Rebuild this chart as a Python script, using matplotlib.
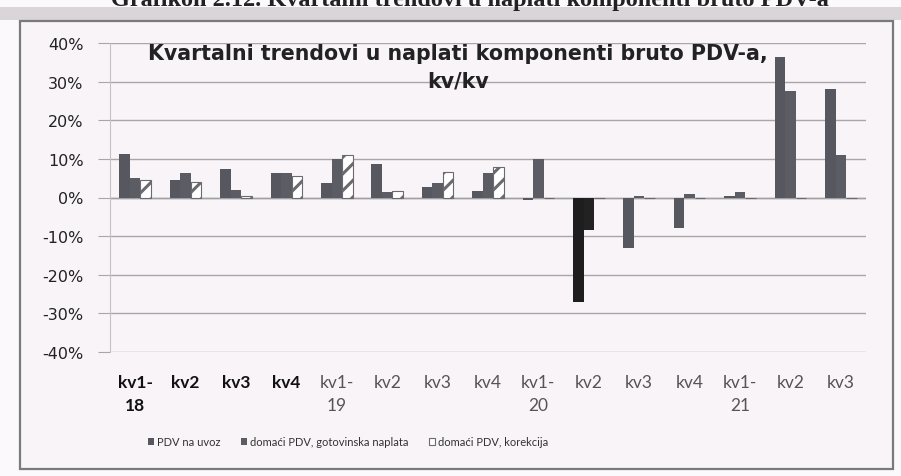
import matplotlib
matplotlib.use("Agg")
import matplotlib.pyplot as plt
from matplotlib.patches import Rectangle
import numpy as np

# ---- data ----
quarters = ["kv1-\n18", "kv2", "kv3", "kv4", "kv1-\n19", "kv2", "kv3", "kv4",
            "kv1-\n20", "kv2", "kv3", "kv4", "kv1-\n21", "kv2", "kv3"]
pdv_uvoz = [11.2, 4.6, 7.3, 6.3, 3.7, 8.8, 2.7, 1.7, -0.7, -27.0, -13.0, -8.0, 0.3, 36.5, 28.0]
domaci_gotovinska = [5.0, 6.3, 2.0, 6.3, 10.0, 1.3, 3.8, 6.3, 10.0, -8.3, 0.3, 0.8, 1.5, 27.5, 11.0]
domaci_korekcija = [4.6, 4.0, 0.5, 5.6, 10.9, 1.8, 6.7, 7.9, 0.0, 0.0, 0.0, 0.0, 0.0, 0.0, 0.0]
series_names = ["PDV na uvoz", "domaći PDV, gotovinska naplata", "domaći PDV, korekcija"]
yticks = [-40, -30, -20, -10, 0, 10, 20, 30, 40]
ytick_labels = ["-40%", "-30%", "-20%", "-10%", "0%", "10%", "20%", "30%", "40%"]

W, H = 901, 477
bg = "#f8f4f8"
plt.rcParams["hatch.linewidth"] = 2.2

fig = plt.figure(figsize=(W / 100, H / 100), dpi=100, facecolor="#fbf9fb")

def fx(px):
    return px / W

def fy(py):
    return 1 - py / H

# scan shadow band and outer frame
fig.patches.append(Rectangle((0, fy(21)), 1, fy(8) - fy(21), transform=fig.transFigure,
                             facecolor="#d9d5d9", edgecolor="none", zorder=-10))
fig.patches.append(Rectangle((fx(20), fy(470)), fx(893) - fx(20), fy(22) - fy(470),
                             transform=fig.transFigure, facecolor=bg, edgecolor="#7a7a7a",
                             linewidth=1.6, zorder=-9))

fig.text(fx(470), fy(6), "Grafikon 2.12. Kvartalni trendovi u naplati komponenti bruto PDV-a",
         ha="center", va="baseline", fontsize=17.5, fontweight="bold",
         family="Liberation Serif", color="#222222")

ax = fig.add_axes([fx(110), fy(353), fx(866) - fx(110), fy(44) - fy(353)])
ax.set_facecolor(bg)
ax.set_zorder(1)

x = np.arange(len(quarters))
bw = 0.21
c_uvoz = ["#57575f"] * len(x)
c_got = ["#5c5c64"] * len(x)
c_uvoz[9] = "#1e1e1e"
c_got[9] = "#222222"

ax.bar(x - bw, pdv_uvoz, bw, color=c_uvoz, label=series_names[0], zorder=3)
ax.bar(x, domaci_gotovinska, bw, color=c_got, label=series_names[1], zorder=3)
ax.bar(x + bw, domaci_korekcija, bw, color="white", edgecolor="#6a6a70", hatch="//",
       linewidth=0.8, label=series_names[2], zorder=3)

ax.set_xlim(-0.5, len(x) - 0.5)
ax.set_ylim(-40, 40)
ax.set_yticks(yticks)
ax.set_yticklabels(ytick_labels, family="DejaVu Sans", fontsize=11.5, color="#222222")
ax.yaxis.grid(True, color="#a8a6aa", linewidth=1.0, zorder=0)
ax.set_axisbelow(True)
ax.tick_params(axis="y", length=9, color="#a8a6aa", pad=10)
ax.axhline(0, color="#a0a0a4", linewidth=1.0, zorder=2)

ax.set_xticks(x)
ax.set_xticklabels(quarters, fontsize=12.5, family="Lato", linespacing=1.5,
                   va="top", ha="center")
for i, lbl in enumerate(ax.get_xticklabels()):
    if i < 4:
        lbl.set_color("#111111")
        lbl.set_fontweight("bold")
    else:
        lbl.set_color("#555555")
ax.tick_params(axis="x", length=0, pad=16)

for s in ["top", "right", "bottom"]:
    ax.spines[s].set_visible(False)
ax.spines["left"].set_color("#c4c2c6")

ax.text(0.46, 1.0, "Kvartalni trendovi u naplati komponenti bruto PDV-a,\nkv/kv",
        transform=ax.transAxes, ha="center", va="top", fontsize=14.8, fontweight="bold",
        family="DejaVu Sans", color="#222222", linespacing=1.5, zorder=5)

leg = fig.legend(loc="center", bbox_to_anchor=(fx(348), fy(443)), ncol=3, frameon=False,
                 handlelength=0.55, handleheight=0.55, columnspacing=1.8,
                 handletextpad=0.3, prop={"family": "Lato", "size": 8})
for t in leg.get_texts():
    t.set_color("#333333")

fig.savefig("out.png", dpi=100, facecolor=fig.get_facecolor())
